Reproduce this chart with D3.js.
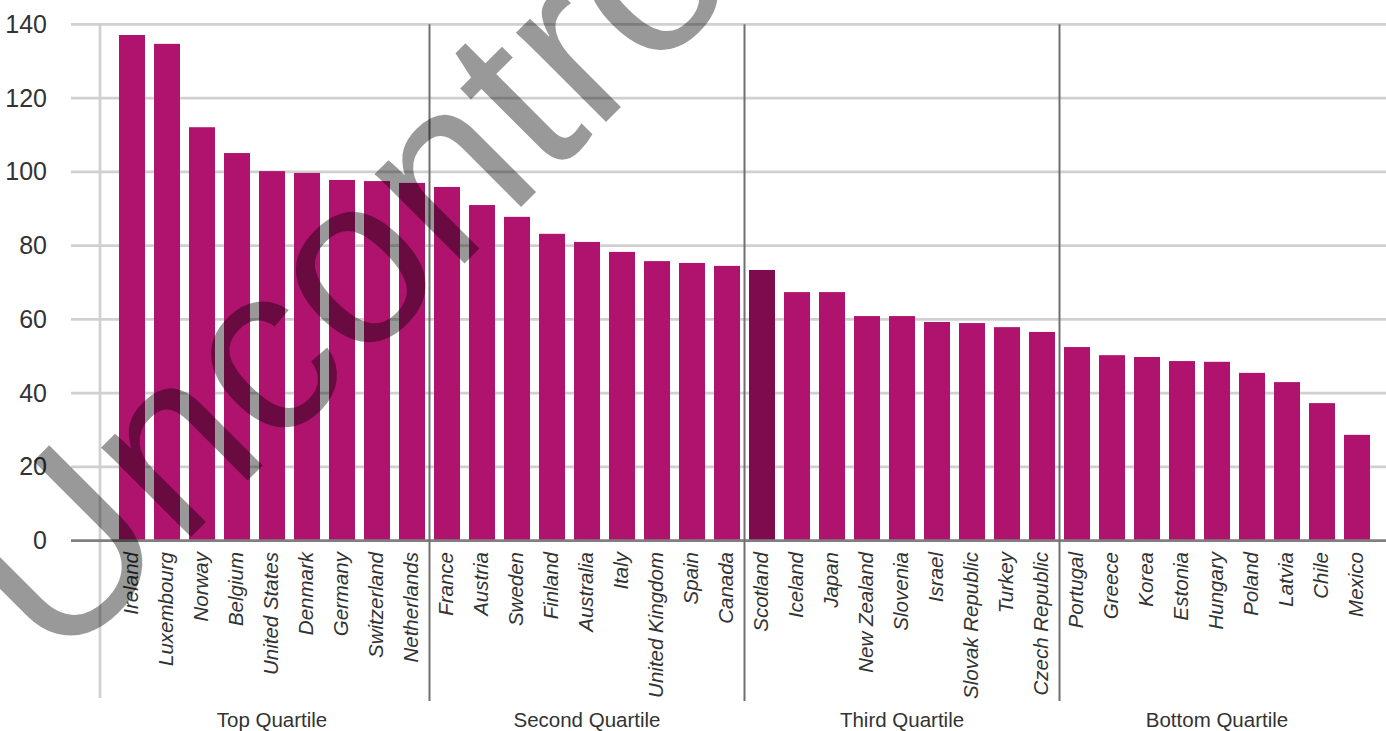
<!DOCTYPE html>
<html>
<head>
<meta charset="utf-8">
<script src="https://cdn.jsdelivr.net/npm/d3@7"></script>
<style>
  body { margin: 0; background: #fff; }
  svg { display: block; }
  text { font-family: "Liberation Sans", Arial, Helvetica, sans-serif; }
</style>
</head>
<body>
<svg id="chart" width="1386" height="731"></svg>
<script>
// Countries ordered by value, grouped in quartiles of nine
const countries = [
  "Ireland", "Luxembourg", "Norway", "Belgium", "United States", "Denmark", "Germany", "Switzerland", "Netherlands",
  "France", "Austria", "Sweden", "Finland", "Australia", "Italy", "United Kingdom", "Spain", "Canada",
  "Scotland", "Iceland", "Japan", "New Zealand", "Slovenia", "Israel", "Slovak Republic", "Turkey", "Czech Republic",
  "Portugal", "Greece", "Korea", "Estonia", "Hungary", "Poland", "Latvia", "Chile", "Mexico"
];
const values = [
  137.1, 134.7, 112.1, 105.1, 100.2, 99.7, 97.8, 97.5, 97.0,
  95.9, 91.0, 87.8, 83.2, 81.0, 78.3, 75.8, 75.3, 74.5,
  73.4, 67.4, 67.4, 60.9, 60.9, 59.3, 59.0, 57.9, 56.6,
  52.5, 50.3, 49.8, 48.7, 48.5, 45.5, 43.0, 37.3, 28.7
];
const quartiles = ["Top Quartile", "Second Quartile", "Third Quartile", "Bottom Quartile"];
const quartileSize = 9;
const highlighted = "Scotland";
const yTicks = [0, 20, 40, 60, 80, 100, 120, 140];
const watermark = "Uncontrolled";

const W = 1386;
const barColor = "#b0136d";
const highlightColor = "#7f0b4f";
const gridColor = "#d0d0d0";
const textColor = "#333333";

const svg = d3.select("#chart");

const x = d3.scaleBand()
  .domain(countries)
  .range([114.5, 1374.5])
  .paddingInner(9 / 35)
  .paddingOuter(4.5 / 35);

const y = d3.scaleLinear()
  .domain([0, 140])
  .range([540.7, 24.3]);

const data = countries.map((c, i) => ({ country: c, value: values[i] }));

// horizontal gridlines
svg.append("g")
  .selectAll("line")
  .data(yTicks.filter(t => t > 0))
  .join("line")
  .attr("x1", 71).attr("x2", W)
  .attr("y1", d => y(d)).attr("y2", d => y(d))
  .attr("stroke", gridColor)
  .attr("stroke-width", 2.7);

// vertical axis line
svg.append("line")
  .attr("x1", 100).attr("x2", 100)
  .attr("y1", y(140)).attr("y2", 698)
  .attr("stroke", gridColor)
  .attr("stroke-width", 2.7);

// bars
svg.append("g")
  .selectAll("rect")
  .data(data)
  .join("rect")
  .attr("x", d => x(d.country))
  .attr("width", x.bandwidth())
  .attr("y", d => y(d.value))
  .attr("height", d => y(0) - y(d.value))
  .attr("fill", d => d.country === highlighted ? highlightColor : barColor);

// baseline
svg.append("line")
  .attr("x1", 71).attr("x2", W)
  .attr("y1", y(0)).attr("y2", y(0))
  .attr("stroke", "#7f7f7f")
  .attr("stroke-width", 2.7);

// quartile separators
const sepX = d3.range(1, quartiles.length).map(q => {
  const left = countries[q * quartileSize - 1];
  const right = countries[q * quartileSize];
  return (x(left) + x.bandwidth() + x(right)) / 2;
});
svg.append("g")
  .selectAll("line")
  .data(sepX)
  .join("line")
  .attr("x1", d => d).attr("x2", d => d)
  .attr("y1", y(140)).attr("y2", 701)
  .attr("stroke", "#707070")
  .attr("stroke-width", 2);

// y tick labels
svg.append("g")
  .selectAll("text")
  .data(yTicks)
  .join("text")
  .attr("x", 47)
  .attr("y", d => y(d) + 8.5)
  .attr("text-anchor", "end")
  .attr("font-size", 25)
  .attr("fill", textColor)
  .text(d => d);

// country labels
svg.append("g")
  .selectAll("text")
  .data(countries)
  .join("text")
  .attr("transform", d => `translate(${x(d) + x.bandwidth() / 2 + 6},552) rotate(-90)`)
  .attr("text-anchor", "end")
  .attr("font-size", 20.5)
  .attr("font-style", "italic")
  .attr("fill", textColor)
  .text(d => d);

// quartile labels
svg.append("g")
  .selectAll("text")
  .data(quartiles)
  .join("text")
  .attr("x", (d, i) => {
    const first = countries[i * quartileSize];
    const last = countries[i * quartileSize + quartileSize - 1];
    return (x(first) + x(last) + x.bandwidth()) / 2;
  })
  .attr("y", 727)
  .attr("text-anchor", "middle")
  .attr("font-size", 20.5)
  .attr("fill", textColor)
  .text(d => d);

// watermark across the plot
svg.append("text")
  .attr("transform", "translate(56.6,671.4) rotate(-45)")
  .attr("font-size", 240)
  .attr("fill", "#000")
  .attr("fill-opacity", 0.4)
  .text(watermark);
</script>
</body>
</html>
